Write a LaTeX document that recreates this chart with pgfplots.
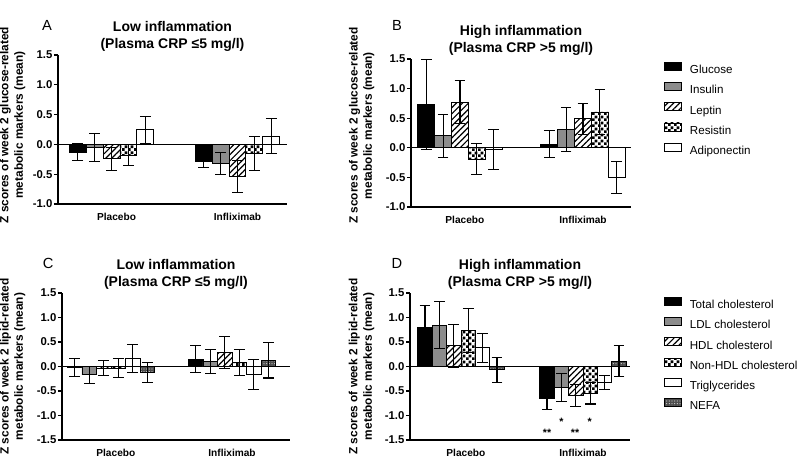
\documentclass[border=0pt]{standalone}
\usepackage{pgfplots}
\pgfplotsset{compat=1.18}
\usepackage{fontspec}
\setmainfont{Liberation Sans}
\usetikzlibrary{patterns,patterns.meta}

% small checkerboard
\tikzdeclarepattern{
  name=smallcheck, type=uncolored,
  bounding box={(0,0) and (4.6pt,4.6pt)},
  tile size={(4.6pt,4.6pt)},
  code={\fill (0,0) rectangle (2.3pt,2.3pt); \fill (2.3pt,2.3pt) rectangle (4.6pt,4.6pt);}
}

\pgfplotsset{
  sq legend/.style={legend image code/.code={\draw[##1, line width=0.7pt] (0pt,0pt) rectangle (12.75pt,6pt);}},
  panel/.style={
    scale only axis, clip=false,
    axis x line*=bottom, axis y line*=left,
    axis line style={line width=1pt},
    ybar=0pt,
    every axis plot/.append style={sq legend, draw=black, line width=0.7pt},
    xtick={0.04,1}, xticklabels={Placebo,Infliximab},
    x tick style={draw=none},
    y tick style={line width=0.8pt, black},
    tick align=outside, major tick length=3pt,
    /pgf/number format/assume math mode=true,
    yticklabel style={/pgf/number format/.cd, fixed, fixed zerofill, precision=1, /tikz/.cd, inner sep=1pt,
      font=\fontsize{8.5}{10}\selectfont\bfseries},
    xticklabel style={font=\fontsize{7.6}{9}\selectfont\bfseries},
    extra y ticks={0}, extra y tick labels={},
    extra y tick style={grid=major, major grid style={black, line width=1pt}},
    title style={font=\fontsize{10.5}{13}\selectfont\bfseries, align=center,
      at={(axis description cs:0.5,1)}, anchor=south, yshift=-7pt},
    ylabel style={font=\fontsize{8.9}{10.8}\selectfont\bfseries, align=center, anchor=south},
    error bars/y dir=both, error bars/y explicit,
    error bars/error bar style={line width=0.8pt, black},
    error bars/error mark options={rotate=90, line width=0.8pt, black, mark size=4pt},
    legend cell align=left,
    legend style={draw=none, fill=none, inner sep=0pt, row sep=3.3pt, anchor=north west,
      font=\fontsize{8.7}{10}\selectfont, cells={anchor=west},
      nodes={inner sep=1pt, text height=7pt, text depth=2pt},
      /tikz/every odd column/.append style={column sep=5pt}},
  },
  sBlack/.style={fill=black},
  sGray/.style={fill=black!45},
  sHatch/.style={pattern={Lines[angle=45,distance=3.2pt,line width=0.9pt]}},
  sCheck/.style={pattern=smallcheck},
  sWhite/.style={fill=white},
  sNefa/.style={fill=black!70, postaction={pattern={Dots[distance=2pt,radius=0.45pt]}, pattern color=black!20}},
}

\begin{document}
\begin{tikzpicture}

% ---------------- A ----------------
\begin{axis}[panel, at={(43.5pt,189.75pt)}, anchor=south west,
  width=171.75pt, height=111.75pt,
  xmin=-0.425, xmax=1.393, ymin=-1, ymax=1.5,
  ytick={-1,-0.5,0,0.5,1,1.5}, bar width=0.134,
  title={Low inflammation\\(Plasma CRP ≤5 mg/l)},
  ylabel={Z scores of week 2 glucose-related\\metabolic markers (mean)},
  ylabel style={at={(axis description cs:-0.122,0.53)}},
]
\addplot[sBlack] coordinates {(0,-0.13) +- (0,0.145) (1,-0.29) +- (0,0.09)};
\addplot[sGray]  coordinates {(0,-0.05) +- (0,0.24) (1,-0.32) +- (0,0.18)};
\addplot[sHatch] coordinates {(0,-0.24) +- (0,0.195) (1,-0.54) +- (0,0.27)};
\addplot[sCheck] coordinates {(0,-0.18) +- (0,0.18) (1,-0.16) +- (0,0.285)};
\addplot[sWhite] coordinates {(0,0.245) +- (0,0.23) (1,0.14) +- (0,0.29)};
\node[font=\fontsize{11}{13}\selectfont] at (rel axis cs:-0.048,1.2) {A};
\end{axis}

% ---------------- B ----------------
\begin{axis}[panel, at={(308.25pt,187.5pt)}, anchor=south west,
  width=165pt, height=111pt,
  xmin=-0.398, xmax=1.39, ymin=-1, ymax=1.5,
  ytick={-1,-0.5,0,0.5,1,1.5}, bar width=0.137,
  title={High inflammation\\(Plasma CRP >5 mg/l)},
  ylabel={Z scores of week 2 glucose-related\\metabolic markers (mean)},
  ylabel style={at={(axis description cs:-0.145,0.55)}},
  legend style={at={(1.149,0.982)}},
]
\addplot[sBlack] coordinates {(0,0.73) +- (0,0.765) (1,0.06) +- (0,0.225)};
\addlegendentry{Glucose}
\addplot[sGray]  coordinates {(0,0.20) +- (0,0.37) (1,0.31) +- (0,0.365)};
\addlegendentry{Insulin}
\addplot[sHatch] coordinates {(0,0.77) +- (0,0.36) (1,0.49) +- (0,0.26)};
\addlegendentry{Leptin}
\addplot[sCheck] coordinates {(0,-0.19) +- (0,0.255) (1,0.605) +- (0,0.38)};
\addlegendentry{Resistin}
\addplot[sWhite] coordinates {(0,-0.03) +- (0,0.34) (1,-0.5) +- (0,0.265)};
\addlegendentry{Adiponectin}
\node[font=\fontsize{11}{13}\selectfont] at (rel axis cs:-0.064,1.23) {B};
\end{axis}

% ---------------- C ----------------
\begin{axis}[panel, at={(46.5pt,12.75pt)}, anchor=south west,
  width=171pt, height=110.25pt,
  xmin=-0.405, xmax=1.479, ymin=-1.5, ymax=1.5,
  ytick={-1.5,-1,-0.5,0,0.5,1,1.5}, bar width=0.12,
  title={Low inflammation\\(Plasma CRP ≤5 mg/l)},
  ylabel={Z scores of week 2 lipid-related\\metabolic markers (mean)},
  ylabel style={at={(axis description cs:-0.14,0.5)}},
]
\addplot[sBlack] coordinates {(0,-0.02) +- (0,0.18) (1,0.15) +- (0,0.27)};
\addplot[sGray]  coordinates {(0,-0.17) +- (0,0.17) (1,0.10) +- (0,0.25)};
\addplot[sHatch] coordinates {(0,-0.03) +- (0,0.15) (1,0.29) +- (0,0.33)};
\addplot[sCheck] coordinates {(0,-0.03) +- (0,0.2) (1,0.08) +- (0,0.27)};
\addplot[sWhite] coordinates {(0,0.16) +- (0,0.28) (1,-0.16) +- (0,0.3)};
\addplot[sNefa]  coordinates {(0,-0.12) +- (0,0.2) (1,0.13) +- (0,0.365)};
\node[font=\fontsize{11}{13}\selectfont] at (rel axis cs:-0.061,1.204) {C};
\end{axis}

% ---------------- D ----------------
\begin{axis}[panel, at={(307.5pt,12.75pt)}, anchor=south west,
  width=165pt, height=110.25pt,
  xmin=-0.418, xmax=1.385, ymin=-1.5, ymax=1.5,
  ytick={-1.5,-1,-0.5,0,0.5,1,1.5}, bar width=0.118,
  title={High inflammation\\(Plasma CRP >5 mg/l)},
  ylabel={Z scores of week 2 lipid-related\\metabolic markers (mean)},
  ylabel style={at={(axis description cs:-0.141,0.5)}},
  legend style={at={(1.153,0.975)}},
]
\addplot[sBlack] coordinates {(0,0.79) +- (0,0.45) (1,-0.66) +- (0,0.225)};
\addlegendentry{Total cholesterol}
\addplot[sGray]  coordinates {(0,0.845) +- (0,0.475) (1,-0.43) +- (0,0.29)};
\addlegendentry{LDL cholesterol}
\addplot[sHatch] coordinates {(0,0.42) +- (0,0.43) (1,-0.59) +- (0,0.23)};
\addlegendentry{HDL cholesterol}
\addplot[sCheck] coordinates {(0,0.73) +- (0,0.45) (1,-0.545) +- (0,0.22)};
\addlegendentry{Non-HDL cholesterol}
\addplot[sWhite] coordinates {(0,0.38) +- (0,0.3) (1,-0.32) +- (0,0.14)};
\addlegendentry{Triglycerides}
\addplot[sNefa]  coordinates {(0,-0.07) +- (0,0.26) (1,0.11) +- (0,0.32)};
\addlegendentry{NEFA}
\node[font=\fontsize{8}{9}\selectfont\bfseries] at (axis cs:0.705,-1.36) {**};
\node[font=\fontsize{8}{9}\selectfont\bfseries] at (axis cs:0.823,-1.12) {*};
\node[font=\fontsize{8}{9}\selectfont\bfseries] at (axis cs:0.935,-1.36) {**};
\node[font=\fontsize{8}{9}\selectfont\bfseries] at (axis cs:1.055,-1.12) {*};
\node[font=\fontsize{11}{13}\selectfont] at (rel axis cs:-0.059,1.204) {D};
\end{axis}

\pgfresetboundingbox
\useasboundingbox (0,0) rectangle (600pt,342.75pt);
\end{tikzpicture}
\end{document}
